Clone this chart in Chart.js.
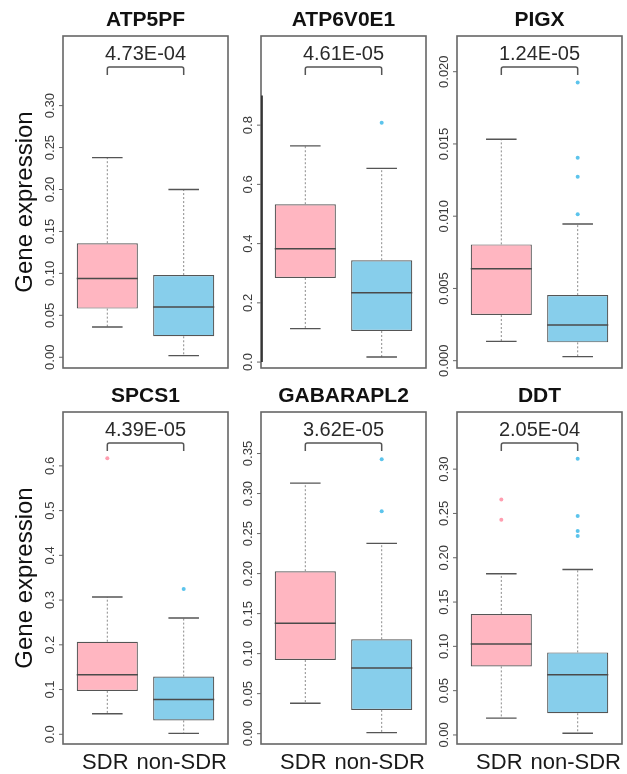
<!DOCTYPE html>
<html>
<head>
<meta charset="utf-8">
<script src="https://cdn.jsdelivr.net/npm/chart.js@4.4.0/dist/chart.umd.min.js"></script>
<style>
  html, body { margin: 0; padding: 0; background: #ffffff; }
  #wrap { position: relative; width: 627px; height: 774px; overflow: hidden; background: #ffffff; }
  #wrap canvas { position: absolute; left: 0; top: 0; }
</style>
</head>
<body>
<div id="wrap"></div>
<script>
// ---- data ----
const genes = ['ATP5PF', 'ATP6V0E1', 'PIGX', 'SPCS1', 'GABARAPL2', 'DDT'];
const groups = ['SDR', 'non-SDR'];
const pValues = ['4.73E-04', '4.61E-05', '1.24E-05', '4.39E-05', '3.62E-05', '2.05E-04'];

// five-number summaries: [lower whisker, Q1, median, Q3, upper whisker]
const sdrStats = [
  [0.036, 0.058, 0.094, 0.136, 0.238],
  [0.113, 0.284, 0.383, 0.533, 0.730],
  [0.00134, 0.00316, 0.00637, 0.00805, 0.01532],
  [0.046, 0.097, 0.133, 0.207, 0.307],
  [0.038, 0.092, 0.138, 0.203, 0.313],
  [0.019, 0.0774, 0.1026, 0.1366, 0.182]
];
const nonSdrStats = [
  [0.002, 0.025, 0.060, 0.098, 0.200],
  [0.017, 0.105, 0.234, 0.344, 0.654],
  [0.00028, 0.00127, 0.00247, 0.00454, 0.00946],
  [0.002, 0.031, 0.078, 0.129, 0.260],
  [0.0013, 0.0297, 0.0819, 0.118, 0.2377],
  [0.0019, 0.0245, 0.0679, 0.0932, 0.1868]
];
const sdrOutliers = [[], [], [], [0.617], [], [0.2657, 0.243]];
const nonSdrOutliers = [
  [],
  [0.808],
  [0.01926, 0.01405, 0.01273, 0.01013],
  [0.325],
  [0.343, 0.278],
  [0.3117, 0.2472, 0.2302, 0.2245]
];

// y axis limits and tick spacing per gene
const yMin = [-0.0128, -0.020, -0.000505, -0.0217, -0.0129, -0.0102];
const yMax = [0.383, 1.101, 0.02247, 0.7204, 0.4019, 0.3645];
const yStep = [0.05, 0.2, 0.005, 0.1, 0.05, 0.05];
const yTickMax = [0.30, 0.8, 0.020, 0.6, 0.35, 0.30];
const axisLineEnd = [null, 0.9, null, null, null, null];

// ---- layout ----
const W = 627, H = 774;
const FONT = '"Liberation Sans", Arial, Helvetica, sans-serif';
const colLeft = [63, 261, 457];
const panelW = 165;
const rowTop = [36, 412];
const panelH = 332;
const PINK = '#FFB6C1';
const BLUE = '#87CEEB';
const PINK_PT = '#FF9EB0';
const BLUE_PT = '#5CC4EC';
const EDGE = '#555555';

function drawBoxExtras(chart, gi) {
  const ctx = chart.ctx;
  const xs = chart.scales.x, ys = chart.scales.y;
  const stats = [sdrStats[gi], nonSdrStats[gi]];
  ctx.save();
  stats.forEach((s, k) => {
    const xc = xs.getPixelForValue(k + 1);
    const half = xs.getPixelForValue(k + 1.4) - xc;
    const yLw = ys.getPixelForValue(s[0]);
    const yQ1 = ys.getPixelForValue(s[1]);
    const yMed = ys.getPixelForValue(s[2]);
    const yQ3 = ys.getPixelForValue(s[3]);
    const yUw = ys.getPixelForValue(s[4]);
    // dashed whiskers
    ctx.strokeStyle = '#8a8a8a';
    ctx.lineWidth = 1;
    ctx.setLineDash([2, 2]);
    ctx.beginPath();
    ctx.moveTo(xc, yQ3); ctx.lineTo(xc, yUw);
    ctx.moveTo(xc, yQ1); ctx.lineTo(xc, yLw);
    ctx.stroke();
    ctx.setLineDash([]);
    // staples
    ctx.strokeStyle = EDGE;
    ctx.lineWidth = 1.4;
    ctx.beginPath();
    ctx.moveTo(xc - half / 2, yUw); ctx.lineTo(xc + half / 2, yUw);
    ctx.moveTo(xc - half / 2, yLw); ctx.lineTo(xc + half / 2, yLw);
    ctx.stroke();
    // median
    ctx.strokeStyle = '#4a4a4a';
    ctx.lineWidth = 1.5;
    ctx.beginPath();
    ctx.moveTo(xc - half, yMed); ctx.lineTo(xc + half, yMed);
    ctx.stroke();
  });
  ctx.restore();
}

function drawFrameAndText(chart, gi) {
  const ctx = chart.ctx;
  const xs = chart.scales.x, ys = chart.scales.y;
  const a = chart.chartArea;
  const row = Math.floor(gi / 3), col = gi % 3;
  ctx.save();
  // frame
  ctx.strokeStyle = '#666666';
  ctx.lineWidth = 1.6;
  ctx.strokeRect(a.left, a.top, a.right - a.left, a.bottom - a.top);
  if (axisLineEnd[gi] !== null) {
    ctx.strokeStyle = '#222222';
    ctx.lineWidth = 1.6;
    ctx.beginPath();
    ctx.moveTo(a.left + 1, ys.getPixelForValue(0));
    ctx.lineTo(a.left + 1, ys.getPixelForValue(axisLineEnd[gi]));
    ctx.stroke();
  }
  // y ticks and rotated labels
  const dec = Math.ceil(-Math.log10(yStep[gi]) - 1e-9);
  ctx.font = '13px ' + FONT;
  ctx.fillStyle = '#3a3a3a';
  ctx.textAlign = 'center';
  ctx.textBaseline = 'middle';
  ctx.strokeStyle = '#666666';
  ctx.lineWidth = 1;
  ys.ticks.forEach(t => {
    const v = t.value;
    if (v < -1e-9 || v > yTickMax[gi] + 1e-9) return;
    const py = ys.getPixelForValue(v);
    ctx.beginPath();
    ctx.moveTo(a.left - 4, py); ctx.lineTo(a.left, py);
    ctx.stroke();
    ctx.save();
    ctx.translate(a.left - 13, py);
    ctx.rotate(-Math.PI / 2);
    ctx.fillText(Math.abs(v).toFixed(dec), 0, 0);
    ctx.restore();
  });
  // gene title
  const cx = (a.left + a.right) / 2;
  ctx.fillStyle = '#111111';
  ctx.font = 'bold 21px ' + FONT;
  ctx.fillText(genes[gi], cx, a.top - 16);
  // p-value bracket
  const x1 = xs.getPixelForValue(1), x2 = xs.getPixelForValue(2);
  const bTop = a.top + 31, bBot = a.top + 39;
  ctx.strokeStyle = '#555555';
  ctx.lineWidth = 1.5;
  ctx.beginPath();
  ctx.moveTo(x1, bBot); ctx.lineTo(x1, bTop + 2);
  ctx.quadraticCurveTo(x1, bTop, x1 + 2, bTop);
  ctx.lineTo(x2 - 2, bTop);
  ctx.quadraticCurveTo(x2, bTop, x2, bTop + 2);
  ctx.lineTo(x2, bBot);
  ctx.stroke();
  ctx.fillStyle = '#2a2a2a';
  ctx.font = '20px ' + FONT;
  ctx.fillText(pValues[gi], (x1 + x2) / 2, a.top + 18);
  // y axis title on the left column
  if (col === 0) {
    ctx.save();
    ctx.translate(25, (a.top + a.bottom) / 2);
    ctx.rotate(-Math.PI / 2);
    ctx.font = '24px ' + FONT;
    ctx.fillStyle = '#111111';
    ctx.fillText('Gene expression', 0, 0);
    ctx.restore();
  }
  // group labels under the bottom row
  if (row === 1) {
    ctx.font = '22px ' + FONT;
    ctx.fillStyle = '#1a1a1a';
    groups.forEach((g, k) => {
      ctx.fillText(g, xs.getPixelForValue(k + 1) - 2, 763);
    });
  }
  ctx.restore();
}

const panelPlugin = {
  id: 'panelDecor',
  afterDatasetsDraw(chart, args, opts) { drawBoxExtras(chart, opts.gene); },
  afterDraw(chart, args, opts) { drawFrameAndText(chart, opts.gene); }
};

const wrap = document.getElementById('wrap');
genes.forEach((g, gi) => {
  const row = Math.floor(gi / 3), col = gi % 3;
  const left = colLeft[col], top = rowTop[row];
  const canvas = document.createElement('canvas');
  canvas.width = W; canvas.height = H;
  canvas.style.width = W + 'px'; canvas.style.height = H + 'px';
  wrap.appendChild(canvas);

  const s = sdrStats[gi], n = nonSdrStats[gi];
  const outPts = [];
  const outCols = [];
  sdrOutliers[gi].forEach(v => { outPts.push({ x: 1, y: v }); outCols.push(PINK_PT); });
  nonSdrOutliers[gi].forEach(v => { outPts.push({ x: 2, y: v }); outCols.push(BLUE_PT); });

  new Chart(canvas, {
    type: 'bar',
    data: {
      datasets: [
        {
          type: 'bar',
          data: [{ x: 1, y: [s[1], s[3]] }, { x: 2, y: [n[1], n[3]] }],
          backgroundColor: [PINK, BLUE],
          borderColor: EDGE,
          borderWidth: 1.2,
          borderSkipped: false,
          barPercentage: 0.8,
          categoryPercentage: 1,
          order: 2
        },
        {
          type: 'scatter',
          data: outPts,
          pointBackgroundColor: outCols,
          pointBorderWidth: 0,
          pointRadius: 2,
          order: 1
        }
      ]
    },
    options: {
      responsive: false,
      devicePixelRatio: 1,
      animation: false,
      events: [],
      layout: { padding: { left: left, top: top, right: W - left - panelW, bottom: H - top - panelH } },
      plugins: {
        legend: { display: false },
        tooltip: { enabled: false },
        panelDecor: { gene: gi }
      },
      scales: {
        x: {
          type: 'linear', min: 0.42, max: 2.58, offset: false,
          grid: { display: false, drawTicks: false }, border: { display: false },
          ticks: { display: false, stepSize: 1, includeBounds: false }
        },
        y: {
          type: 'linear', min: yMin[gi], max: yMax[gi],
          grid: { display: false, drawTicks: false }, border: { display: false },
          ticks: { display: false, stepSize: yStep[gi], includeBounds: false }
        }
      }
    },
    plugins: [panelPlugin]
  });
});
</script>
</body>
</html>
